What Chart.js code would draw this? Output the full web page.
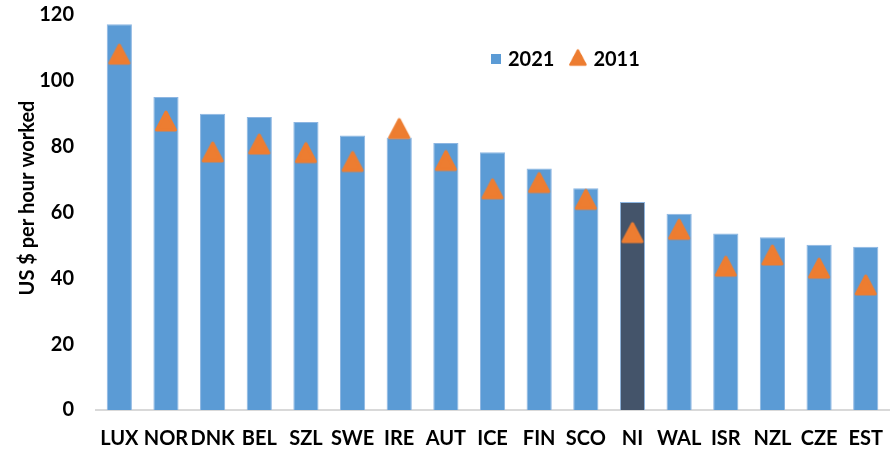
<!DOCTYPE html>
<html>
<head>
<meta charset="utf-8">
<script src="https://cdn.jsdelivr.net/npm/chart.js@4/dist/chart.umd.min.js"></script>
<style>
  html, body { margin: 0; padding: 0; background: #fff; overflow: hidden; }
  #wrap { width: 891px; height: 451px; overflow: hidden; }
  #box { width: 900px; height: 451px; }
</style>
</head>
<body>
<div id="wrap"><div id="box"><canvas id="Chart"></canvas></div></div>
<script>
var countries = ['LUX', 'NOR', 'DNK', 'BEL', 'SZL', 'SWE', 'IRE', 'AUT', 'ICE', 'FIN', 'SCO', 'NI', 'WAL', 'ISR', 'NZL', 'CZE', 'EST'];
var values2021 = [117.2, 95.1, 90.0, 89.0, 87.5, 83.4, 82.8, 81.1, 78.3, 73.4, 67.4, 63.2, 59.6, 53.6, 52.5, 50.2, 49.6];
var values2011 = [108.1, 87.8, 78.4, 80.8, 78.2, 75.5, 85.5, 75.8, 67.2, 69.1, 64.0, 53.9, 54.9, 43.7, 47.1, 43.1, 38.0];
var yTicks = [0, 20, 40, 60, 80, 100, 120];
var yTitle = 'US $ per hour worked';
var highlight = 'NI';

var blue = '#5B9BD5';
var dark = '#44546A';
var orange = '#ED7D31';
var font = 'Lato, "Open Sans", sans-serif';

var barColors = countries.map(function(c) { return c == highlight ? dark : blue; });

// rounded triangle marker, centred in its box like Excel's
var tri = document.createElement('canvas');
tri.width = 24;
tri.height = 24;
var tctx = tri.getContext('2d');
tctx.fillStyle = orange;
tctx.strokeStyle = orange;
tctx.lineWidth = 3;
tctx.lineJoin = 'round';
tctx.beginPath();
tctx.moveTo(12, 3);
tctx.lineTo(21.5, 21);
tctx.lineTo(2.5, 21);
tctx.closePath();
tctx.fill();
tctx.stroke();

// legend drawn inside the plot, plus the y title a bit above centre, like the original
var legendPlugin = {
    id: 'innerLegend',
    afterDraw: function(chart) {
        var ctx = chart.ctx;
        var x = 491;
        var y = 59;
        ctx.save();
        ctx.font = 'bold 20px ' + font;
        ctx.textBaseline = 'middle';
        chart.data.datasets.forEach(function(ds, i) {
            if (i == 0) {
                ctx.fillStyle = blue;
                ctx.fillRect(x, y - 5, 10, 10);
                x += 17;
            } else {
                ctx.drawImage(tri, x - 4, y - 11, 19, 19);
                x += 21;
            }
            ctx.fillStyle = '#000';
            ctx.fillText(ds.label, x, y + 1);
            x += ctx.measureText(ds.label).width + 18;
        });

        ctx.translate(28, 198);
        ctx.rotate(-Math.PI / 2);
        ctx.textAlign = 'center';
        ctx.fillText(yTitle, 0, 0);
        ctx.restore();
    }
};

var ctx = document.getElementById('Chart').getContext('2d');
var myChart = new Chart(ctx, {
    type: 'bar',
    data: {
        labels: countries,
        datasets: [{
            type: 'bar',
            label: '2021',
            data: values2021,
            backgroundColor: barColors,
            borderColor: '#8DB6E2',
            borderWidth: 1,
            categoryPercentage: 1,
            barPercentage: 0.54,
            order: 2
        }, {
            type: 'line',
            label: '2011',
            data: values2011,
            showLine: false,
            pointStyle: tri,
            pointRadius: 12,
            pointHoverRadius: 12,
            order: 1
        }]
    },
    options: {
        responsive: true,
        maintainAspectRatio: false,
        animation: false,
        layout: { autoPadding: false, padding: { top: 15, right: 1, bottom: 0, left: 0 } },
        plugins: {
            legend: { display: false },
            tooltip: { enabled: false }
        },
        scales: {
            x: {
                afterFit: function(scale) { scale.height = 41; },
                grid: { display: false, drawTicks: false },
                border: { display: true, color: '#D9D9D9', width: 2 },
                ticks: { color: '#000', font: { family: font, size: 20, weight: 'bold' }, padding: 17, maxRotation: 0, autoSkip: false }
            },
            y: {
                min: 0,
                max: 120,
                afterBuildTicks: function(scale) {
                    scale.ticks = yTicks.map(function(v) { return { value: v }; });
                },
                afterFit: function(scale) {
                    scale.width = 96;
                    scale.paddingTop = 0;
                    scale.paddingBottom = 0;
                },
                grid: { display: false, drawTicks: false },
                border: { display: false },
                ticks: { color: '#000', font: { family: font, size: 20, weight: 'bold' }, padding: 22 }
            }
        }
    },
    plugins: [legendPlugin]
});
</script>
</body>
</html>
